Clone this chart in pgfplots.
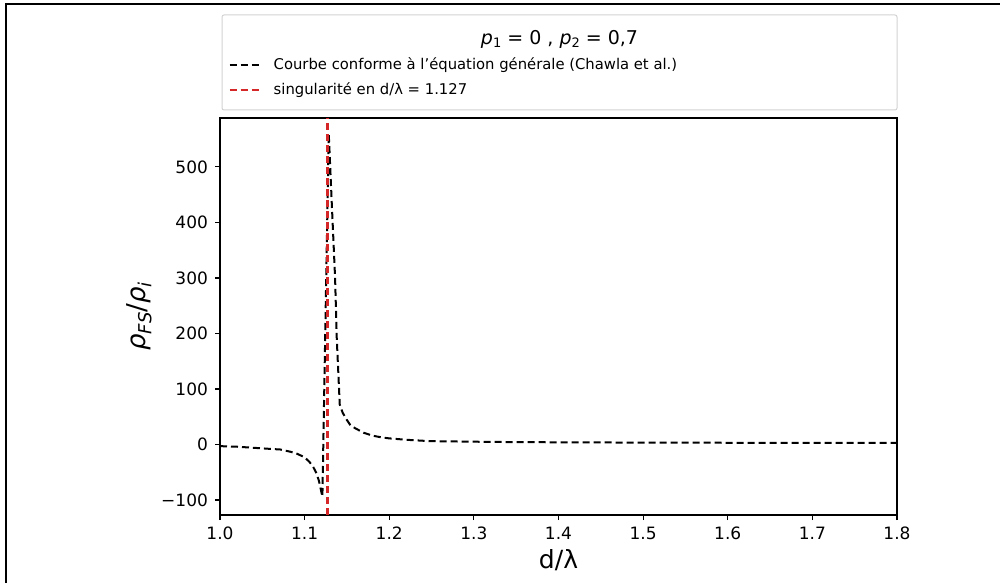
\documentclass[border=0pt]{standalone}
\usepackage{pgfplots}
\pgfplotsset{compat=1.18}
\usepackage{fontspec}
\setmainfont{DejaVu Sans}
\definecolor{tabred}{HTML}{D62728}
\begin{document}
\begin{tikzpicture}
\useasboundingbox (0pt,0pt) rectangle (500pt,291.5pt);
\draw[line width=1pt] (3pt,0pt) -- (3pt,289.5pt) -- (500pt,289.5pt);
\draw[gray!35, line width=0.5pt, rounded corners=1pt] (111pt,236.5pt) rectangle (448.5pt,284pt);
\node[font=\fontsize{9.5}{11}\selectfont] at (279.75pt,272pt) {\textit{p}\raisebox{-0.35ex}{\fontsize{6.5}{7}\selectfont 1} = 0 , \textit{p}\raisebox{-0.35ex}{\fontsize{6.5}{7}\selectfont 2} = 0,7};
\begin{axis}[
  at={(110pt,34pt)}, anchor=south west,
  width=338.5pt, height=198.5pt, scale only axis,
  xmin=1.0, xmax=1.8, ymin=-127, ymax=588,
  xtick={1.0,1.1,1.2,1.3,1.4,1.5,1.6,1.7,1.8},
  xticklabels={1.0,1.1,1.2,1.3,1.4,1.5,1.6,1.7,1.8},
  ytick={-100,0,100,200,300,400,500},
  yticklabels={−100,0,100,200,300,400,500},
  tick align=outside, major tick length=2.5pt,
  xtick pos=bottom, ytick pos=left,
  axis line style={line width=0.6pt},
  every tick/.style={black, line width=0.6pt},
  ticklabel style={font=\fontsize{8.5}{10}\selectfont},
  xlabel={d/λ}, ylabel={\textit{ρ}\raisebox{-0.4ex}{\fontsize{9}{10}\selectfont\textit{FS}}/\textit{ρ}\raisebox{-0.4ex}{\fontsize{9}{10}\selectfont\textit{i}}},
  xlabel style={font=\fontsize{12.5}{14}\selectfont, yshift=2pt},
  ylabel style={font=\fontsize{13}{15}\selectfont, yshift=-2pt},
  legend style={at={(0.012,1.16)}, anchor=north west, draw=none, fill=none,
    font=\fontsize{7.4}{8.5}\selectfont, row sep=2pt, inner sep=0pt,
    nodes={inner sep=1.5pt, anchor=west}},
  legend cell align=left,
  legend image code/.code={\draw[#1] (0pt,0pt) -- (15pt,0pt);},
]
\addplot[black, line width=1pt, dash pattern=on 3.5pt off 2pt] coordinates {
(1.000,-3) (1.02,-4) (1.04,-6) (1.06,-8) (1.071,-9) (1.083,-13) (1.09,-16)
(1.10,-23) (1.106,-32) (1.11,-40) (1.114,-52) (1.117,-66) (1.119,-80) (1.121,-94)
(1.1285,560) (1.1325,420) (1.136,300) (1.138,190) (1.1415,72) (1.145,57)
(1.15,44) (1.154,35) (1.16,29) (1.17,21) (1.18,16) (1.19,13) (1.2,11)
(1.22,8.5) (1.248,6) (1.3,5) (1.35,4.3) (1.4,3.9) (1.5,3.4) (1.6,3.1)
(1.7,2.9) (1.8,2.8)};
\addlegendentry{\hspace{5pt}Courbe conforme à l'équation générale (Chawla et al.)}
\addplot[tabred, line width=1.1pt, dash pattern=on 3.5pt off 2pt] coordinates {(1.127,-127) (1.127,588)};
\addlegendentry{\hspace{5pt}singularité en d/λ = 1.127}
\end{axis}
\end{tikzpicture}
\end{document}
